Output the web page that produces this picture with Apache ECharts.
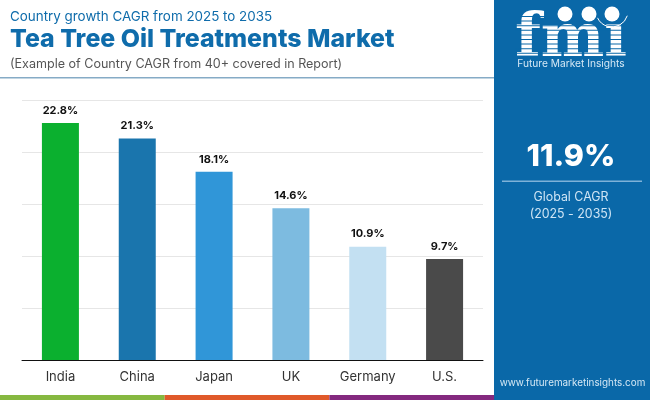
<!DOCTYPE html>
<html lang="en">
<head>
    <meta charset="utf-8">
    <title>Tea Tree Oil Treatments Market</title>
    <style>
        html, body { margin: 0; padding: 0; background: #fff; }
        #chart { width: 650px; height: 400px; }
    </style>
</head>
<body>
<div id="chart"></div>
<script src="https://cdn.jsdelivr.net/npm/echarts@6/dist/echarts.min.js"></script>
<script type="text/javascript">
    var countries = ['India', 'China', 'Japan', 'UK', 'Germany', 'U.S.'];
    var cagrValues = [22.8, 21.3, 18.1, 14.6, 10.9, 9.7];
    var barColors = ['#0bb02f', '#1a75ad', '#3096d8', '#7dbbe0', '#c3e0f2', '#4a4a4a'];

    var fontName = 'Inter';
    var panelBlue = '#0a68a8';
    var titleBlue = '#0f6cab';

    // coloured stripe along the bottom
    var stripeColors = ['#86b840', '#e0592a', '#84297f'];
    var stripes = stripeColors.map(function (c, i) {
        return { type: 'rect', z: 5, shape: { x: i * 164.7, y: 395, width: 164.7, height: 5 }, style: { fill: c } };
    });

    // logo bands cut across the fmi letters
    var logoBands = [];
    for (var y = 16; y < 58; y += 4.6) {
        logoBands.push({ type: 'rect', z: 7, shape: { x: 515, y: y, width: 112, height: 1 }, style: { fill: panelBlue } });
    }

    function text(x, y, str, size, weight, fill, align, family) {
        return {
            type: 'text', z: 6, x: x, y: y,
            style: {
                text: str, fontFamily: family || fontName, fontSize: size, fontWeight: weight, fill: fill,
                align: align || 'left', verticalAlign: 'middle'
            }
        };
    }

    var myChart = echarts.init(document.getElementById('chart'), null, { renderer: 'canvas' });
    myChart.setOption({
        animation: false,
        grid: { left: 22, right: 167, top: 100, bottom: 40 },
        xAxis: {
            type: 'category',
            data: countries,
            axisTick: { show: false },
            axisLine: { lineStyle: { color: '#111', width: 1 } },
            axisLabel: { color: '#333', fontFamily: fontName, fontSize: 13, margin: 11, interval: 0 }
        },
        yAxis: {
            type: 'value',
            min: 0,
            max: 25,
            interval: 5,
            axisLabel: { show: false },
            axisLine: { show: false },
            axisTick: { show: false },
            splitLine: { lineStyle: { color: '#e6e6e6', width: 1 } }
        },
        series: [{
            type: 'bar',
            barWidth: 37,
            data: cagrValues.map(function (v, i) {
                return { value: v, itemStyle: { color: barColors[i] } };
            }),
            label: {
                show: true,
                position: 'top',
                distance: 7,
                formatter: '{c}%',
                color: '#111',
                fontFamily: fontName,
                fontSize: 11,
                fontWeight: 700
            }
        }],
        graphic: [
            { type: 'rect', z: 4, shape: { x: 494, y: 0, width: 156, height: 400 }, style: { fill: panelBlue } },
            { type: 'rect', z: 4, shape: { x: 0, y: 77, width: 494, height: 1.5 }, style: { fill: '#86abc6' } },
            text(10, 17, 'Country growth CAGR from 2025 to 2035', 13.4, 400, titleBlue),
            text(10, 40, 'Tea Tree Oil Treatments Market', 24.9, 800, titleBlue),
            text(10, 64, '(Example of Country CAGR from 40+ covered in Report)', 12.55, 400, '#555'),

            text(571, 40.5, 'fmi', 60, 700, '#fff', 'center', 'DejaVu Serif'),
            { type: 'rect', z: 8, shape: { x: 548, y: 0, width: 80, height: 22 }, style: { fill: panelBlue } },
            { type: 'circle', z: 9, shape: { cx: 565, cy: 14, r: 7.5 }, style: { fill: '#fff' } },
            { type: 'circle', z: 9, shape: { cx: 589, cy: 14, r: 7.5 }, style: { fill: '#fff' } },
            { type: 'circle', z: 9, shape: { cx: 612, cy: 14, r: 7.5 }, style: { fill: '#fff' } },
            { type: 'arc', z: 9, shape: { cx: 612, cy: 11, r: 16, startAngle: 0.3, endAngle: 2.7 }, style: { stroke: '#fff', fill: null, lineWidth: 1 } },
            text(571, 64, 'Future Market Insights', 10.2, 400, '#d5e8f5', 'center'),

            text(571, 157, '11.9%', 30.5, 800, '#fff', 'center'),
            { type: 'rect', z: 6, shape: { x: 502, y: 180.5, width: 140, height: 1.5 }, style: { fill: '#7fb2d8' } },
            text(571, 197, 'Global CAGR', 12.4, 400, '#cfe5f5', 'center'),
            text(571, 214, '(2025 - 2035)', 12.4, 400, '#cfe5f5', 'center'),
            text(572.5, 383, 'www.futuremarketinsights.com', 9.9, 400, '#d5e8f5', 'center')
        ].concat(stripes, logoBands)
    });
</script>
</body>
</html>
